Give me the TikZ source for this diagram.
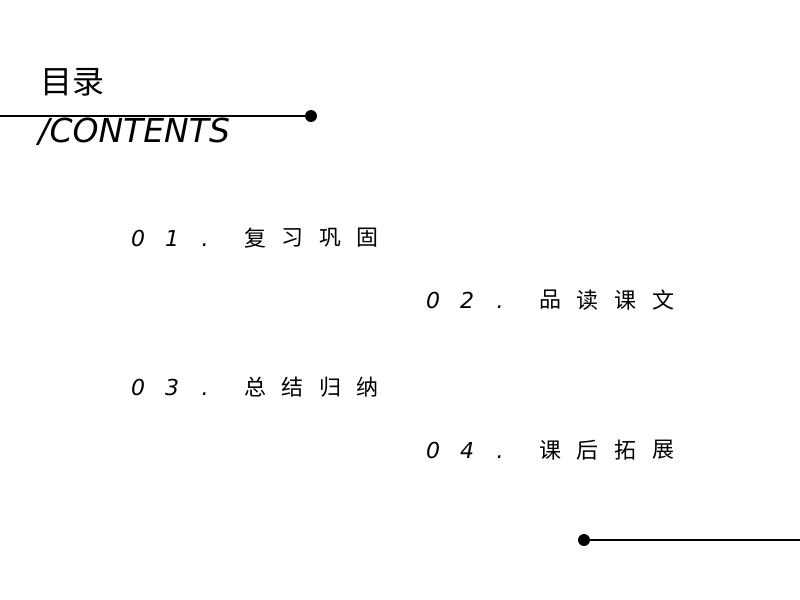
\documentclass[tikz,border=0pt]{standalone}
\usepackage{fontspec}
\newfontfamily\cjk{Noto Sans CJK SC}
\setsansfont{DejaVu Sans}
\begin{document}
\begin{tikzpicture}[x=0.5pt,y=-0.5pt,
  ch/.style={inner sep=0pt,font=\cjk\fontsize{11}{11}\selectfont},
  dg/.style={inner sep=0pt,anchor=base,font=\sffamily\itshape\fontsize{11}{11}\selectfont}]
\useasboundingbox[fill=white] (0,0) rectangle (800,600);
\node[inner sep=0pt,anchor=west,font=\cjk\fontsize{16}{16}\selectfont] (title) at (40,82) {目录};
\node[inner sep=0pt,anchor=west,font=\sffamily\itshape\fontsize{16.5}{16.5}\selectfont] (cont) at (38,132) {/CONTENTS};
\coordinate (l1) at (0,116);
\fill (311,116) circle (6) node (d1) {};
\draw[line width=1pt] (l1) -- (d1.center);
\coordinate (l2) at (800,540);
\fill (584,540) circle (6) node (d2) {};
\draw[line width=1pt] (d2.center) -- (l2);
\def\item#1#2#3#4#5#6#7#8{%
  \node[dg] (n#1a) at (#2+8,#3+8) {0};
  \node[dg] (n#1b) at (#2+42,#3+8) {#4};
  \node[dg] (n#1c) at (#2+75,#3+8) {.};
  \node[ch] (n#1d) at (#2+125,#3) {#5};
  \node[ch] (n#1e) at (#2+162,#3) {#6};
  \node[ch] (n#1f) at (#2+200,#3) {#7};
  \node[ch] (n#1g) at (#2+238,#3) {#8};}
\item{1}{130}{238}{1}{复}{习}{巩}{固}
\item{2}{425}{300}{2}{品}{读}{课}{文}
\item{3}{130}{387}{3}{总}{结}{归}{纳}
\item{4}{425}{450}{4}{课}{后}{拓}{展}
\end{tikzpicture}
\end{document}
